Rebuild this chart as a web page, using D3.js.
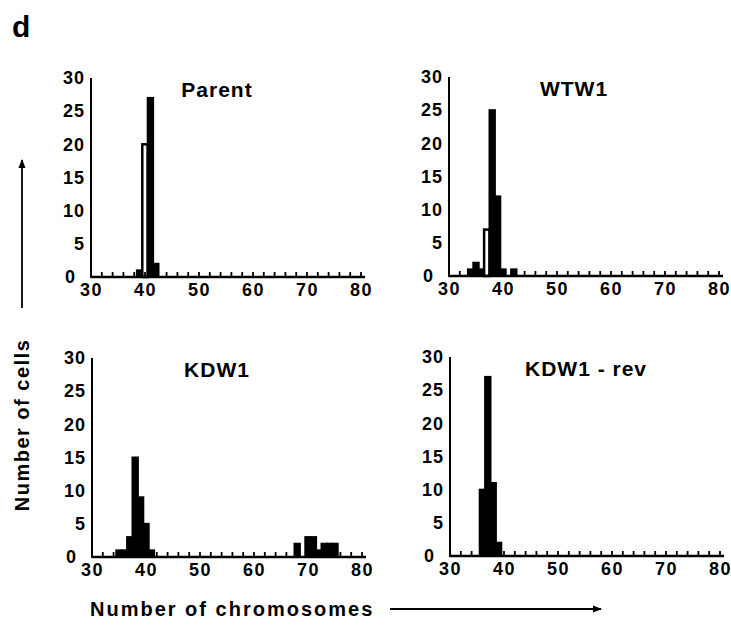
<html>
<head>
<script src="https://cdn.jsdelivr.net/npm/d3@7"></script>
<style>
  body { margin: 0; background: #fff; }
  text { font-family: "Liberation Sans", Arial, sans-serif; font-weight: bold; fill: #000; }
</style>
</head>
<body>
<svg width="731" height="627"></svg>
<script>
// chromosome counts (x) and number of cells (y) for each line
var parentBins = [39, 40, 41, 42];
var parentCells = [1, 20, 27, 2];

var wtw1Bins = [34, 35, 36, 37, 38, 39, 40, 42];
var wtw1Cells = [1, 2, 1, 7, 25, 12, 1, 1];

var kdw1Bins = [35, 36, 37, 38, 39, 40, 41, 68, 70, 71, 72, 73, 74, 75];
var kdw1Cells = [1, 1, 3, 15, 9, 5, 1, 2, 3, 3, 1, 2, 2, 2];

var revBins = [36, 37, 38, 39];
var revCells = [10, 27, 11, 2];

var xTicks = [30, 40, 50, 60, 70, 80];
var yTicks = [0, 5, 10, 15, 20, 25, 30];

var panels = [
  {title: 'Parent', bins: parentBins, cells: parentCells, open: [40], x: 91, y: 277, tx: 126},
  {title: 'WTW1', bins: wtw1Bins, cells: wtw1Cells, open: [37], x: 449, y: 276, tx: 125},
  {title: 'KDW1', bins: kdw1Bins, cells: kdw1Cells, open: [], x: 92, y: 557, tx: 125},
  {title: 'KDW1 - rev', bins: revBins, cells: revCells, open: [], x: 450, y: 556, tx: 136}
];

var svg = d3.select('svg');
var w = 270, h = 199;

var x = d3.scaleLinear().domain([30, 80]).range([0, w]);
var y = d3.scaleLinear().domain([0, 30]).range([0, -h]);
var bw = x(31) - x(30);

panels.forEach(function(p) {
  var g = svg.append('g').attr('transform', 'translate(' + p.x + ',' + p.y + ')');

  var data = p.bins.map(function(b, i) { return {bin: b, n: p.cells[i]}; });

  g.selectAll('rect')
    .data(data)
    .enter()
    .append('rect')
    .attr('x', function(d) { return x(d.bin) - bw / 2; })
    .attr('width', bw)
    .attr('y', function(d) { return y(d.n); })
    .attr('height', function(d) { return -y(d.n); })
    .attr('fill', function(d) { return p.open.indexOf(d.bin) >= 0 ? '#fff' : '#000'; })
    .attr('stroke', '#000')
    .attr('stroke-width', function(d) { return p.open.indexOf(d.bin) >= 0 ? 2.5 : 2; });

  // x axis: little upward ticks every 2
  var xa = g.append('g').call(d3.axisBottom(x).tickValues(xTicks).tickSize(0).tickPadding(6));
  xa.select('.domain').remove();
  xa.selectAll('text').style('font-size', '18px').style('letter-spacing', '1.5px');
  g.append('line').attr('x1', 0).attr('x2', w + 4).attr('y1', 0).attr('y2', 0)
    .attr('stroke', '#000').attr('stroke-width', 2.5);
  g.selectAll('.mt')
    .data(d3.range(32, 81, 2))
    .enter()
    .append('line')
    .attr('x1', function(d) { return x(d); })
    .attr('x2', function(d) { return x(d); })
    .attr('y1', 0).attr('y2', -5)
    .attr('stroke', '#000').attr('stroke-width', 1.8);

  // y axis, the 0 sits a bit to the left like in the figure
  var ya = g.append('g').call(d3.axisLeft(y).tickValues(yTicks).tickSize(0).tickPadding(6));
  ya.select('.domain').remove();
  ya.selectAll('text').style('font-size', '18px').style('letter-spacing', '1px');
  ya.selectAll('text').filter(function(d) { return d === 0; }).attr('x', -15);
  g.append('line').attr('x1', 0).attr('x2', 0).attr('y1', 1).attr('y2', y(30))
    .attr('stroke', '#000').attr('stroke-width', 2);

  g.append('text')
    .attr('x', p.tx)
    .attr('y', y(30) + 19)
    .attr('text-anchor', 'middle')
    .style('font-size', '21px')
    .style('letter-spacing', '1px')
    .text(p.title);
});

svg.append('text').attr('x', 12).attr('y', 37).style('font-size', '30px').text('d');

var defs = svg.append('defs');
defs.append('marker').attr('id', 'arr')
  .attr('viewBox', '0 0 10 10').attr('refX', 9).attr('refY', 5)
  .attr('markerWidth', 9).attr('markerHeight', 9).attr('orient', 'auto')
  .attr('markerUnits', 'userSpaceOnUse')
  .append('path').attr('d', 'M0,1 L10,5 L0,9 Z').attr('fill', '#000');

svg.append('line').attr('x1', 22).attr('x2', 22).attr('y1', 308).attr('y2', 160)
  .attr('stroke', '#000').attr('stroke-width', 1.8).attr('marker-end', 'url(#arr)');
svg.append('text')
  .attr('transform', 'translate(29,425) rotate(-90)')
  .attr('text-anchor', 'middle')
  .style('font-size', '20px')
  .style('letter-spacing', '1.5px')
  .text('Number of cells');

svg.append('text').attr('x', 90).attr('y', 616).style('font-size', '20px')
  .style('letter-spacing', '2px').text('Number of chromosomes');
svg.append('line').attr('x1', 390).attr('x2', 601).attr('y1', 609).attr('y2', 609)
  .attr('stroke', '#000').attr('stroke-width', 1.8).attr('marker-end', 'url(#arr)');
</script>
</body>
</html>
